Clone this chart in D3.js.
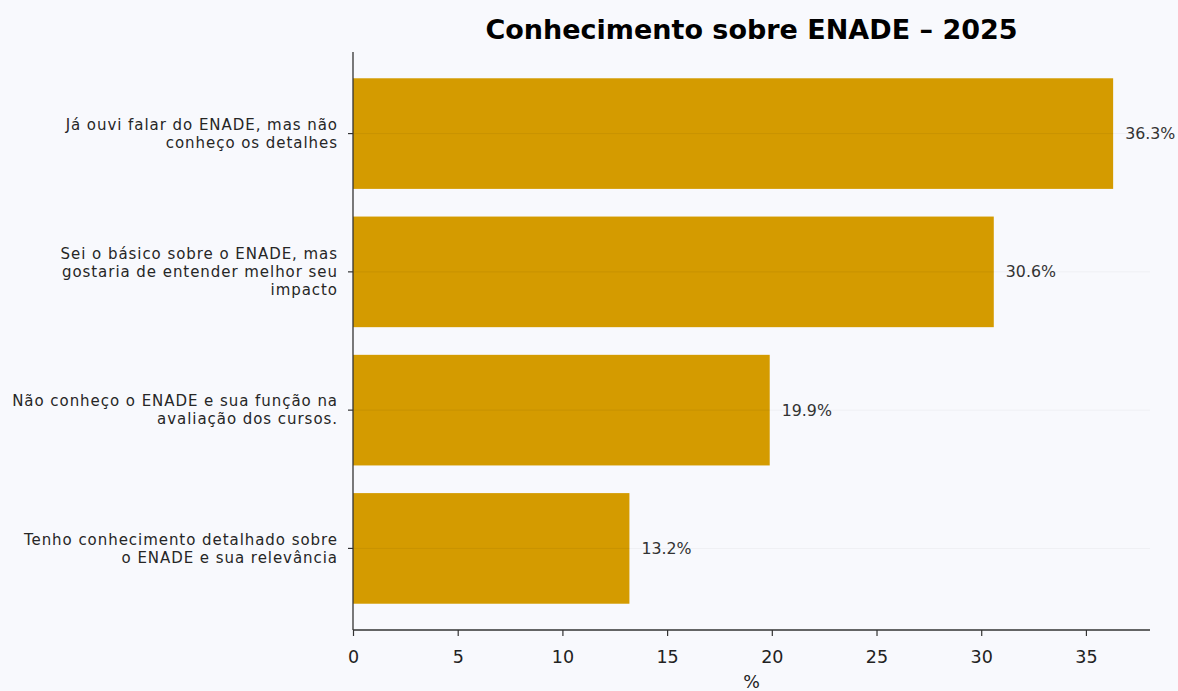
<!DOCTYPE html>
<html>
<head>
<meta charset="utf-8">
<script src="https://cdn.jsdelivr.net/npm/d3@7"></script>
<style>
  html, body { margin: 0; padding: 0; background: #f8f9fd; }
  svg { display: block; font-family: "DejaVu Sans", sans-serif; }
</style>
</head>
<body>
<svg id="chart" width="1178" height="691"></svg>
<script>
// data
var categories = [
  ["Já ouvi falar do ENADE, mas não", "conheço os detalhes"],
  ["Sei o básico sobre o ENADE, mas", "gostaria de entender melhor seu", "impacto"],
  ["Não conheço o ENADE e sua função na", "avaliação dos cursos."],
  ["Tenho conhecimento detalhado sobre", "o ENADE e sua relevância"]
];
var values = [36.3, 30.6, 19.9, 13.2];
var xTicks = [0, 5, 10, 15, 20, 25, 30, 35];

var svg = d3.select("#chart"),
    margin = {top: 52, right: 28, bottom: 61, left: 353},
    width = 1178 - margin.left - margin.right,
    height = 691 - margin.top - margin.bottom;

var g = svg.append("g").attr("transform", "translate(" + margin.left + "," + margin.top + ")");

var x = d3.scaleLinear().domain([0, 38.06]).range([0, width]);
var y = d3.scaleLinear().domain([-0.59, 3.59]).range([0, height]);
var barH = 0.8;

// faint horizontal grid at category centres
g.selectAll(".grid").data(values).enter().append("line")
    .attr("x1", 0).attr("x2", width)
    .attr("y1", function(d, i) { return y(i); })
    .attr("y2", function(d, i) { return y(i); })
    .attr("stroke", "#000").attr("stroke-opacity", 0.04).attr("stroke-width", 1);

g.selectAll(".bar").data(values).enter().append("rect")
    .attr("x", x(0))
    .attr("y", function(d, i) { return y(i - barH / 2); })
    .attr("width", function(d) { return x(d) - x(0); })
    .attr("height", y(barH) - y(0))
    .attr("fill", "#d49b00");

// grid drawn again faintly over bars
g.selectAll(".grid2").data(values).enter().append("line")
    .attr("x1", 0).attr("x2", function(d) { return x(d); })
    .attr("y1", function(d, i) { return y(i); })
    .attr("y2", function(d, i) { return y(i); })
    .attr("stroke", "#000").attr("stroke-opacity", 0.06).attr("stroke-width", 1);

g.selectAll(".val").data(values).enter().append("text")
    .attr("x", function(d) { return x(d) + 12; })
    .attr("y", function(d, i) { return y(i); })
    .attr("dy", "0.35em")
    .attr("font-size", 15.8)
    .attr("fill", "#333")
    .text(function(d) { return d.toFixed(1) + "%"; });

// x axis
var xAxis = g.append("g")
    .attr("transform", "translate(0," + height + ")")
    .call(d3.axisBottom(x).tickValues(xTicks).tickSize(6).tickSizeOuter(0));
xAxis.select(".domain").attr("stroke", "#333").attr("stroke-width", 1.3)
    .attr("d", "M0,0H" + width);
xAxis.selectAll(".tick line").attr("stroke", "#333").attr("stroke-width", 1.2);
xAxis.selectAll(".tick text").attr("font-size", 17.5).attr("fill", "#222")
    .attr("font-family", "DejaVu Sans").attr("dy", "1.38em");

// left spine + ticks
g.append("line").attr("x1", 0).attr("x2", 0).attr("y1", 0).attr("y2", height)
    .attr("stroke", "#333").attr("stroke-width", 1.3);
g.selectAll(".ytick").data(values).enter().append("line")
    .attr("x1", -5).attr("x2", 0)
    .attr("y1", function(d, i) { return y(i); })
    .attr("y2", function(d, i) { return y(i); })
    .attr("stroke", "#333").attr("stroke-width", 1.2);

var lineH = 18;
g.selectAll(".cat").data(categories).enter().append("text")
    .attr("text-anchor", "end")
    .attr("font-size", 15)
    .attr("letter-spacing", "0.95px")
    .attr("fill", "#262626")
    .each(function(lines, i) {
      var t = d3.select(this);
      var y0 = y(i) - (lines.length - 1) * lineH / 2;
      lines.forEach(function(l, k) {
        t.append("tspan").attr("x", -15).attr("y", y0 + k * lineH).attr("dy", "0.35em").text(l);
      });
    });

g.append("text")
    .attr("x", width / 2).attr("y", 688 - margin.top)
    .attr("text-anchor", "middle")
    .attr("font-size", 17.5).attr("fill", "#222")
    .text("%");

svg.append("text")
    .attr("x", margin.left + width / 2).attr("y", 39)
    .attr("text-anchor", "middle")
    .attr("font-size", 27).attr("font-weight", "bold").attr("fill", "#000")
    .text("Conhecimento sobre ENADE – 2025");
</script>
</body>
</html>
